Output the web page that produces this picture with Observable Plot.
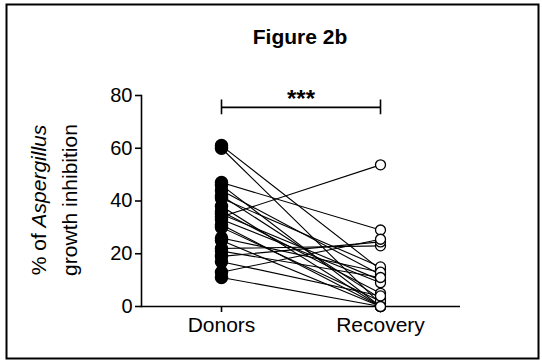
<!DOCTYPE html>
<html>
<head>
<meta charset="utf-8">
<script src="https://cdn.jsdelivr.net/npm/d3@7"></script>
<script src="https://cdn.jsdelivr.net/npm/@observablehq/plot@0.6"></script>
<style>
  html, body { margin: 0; padding: 0; background: #fff; }
  svg { font-family: "Liberation Sans", Arial, sans-serif; }
</style>
</head>
<body>
<div id="chart"></div>
<script>
const groups = ["Donors", "Recovery"];
const donorValues    = [61, 60, 47, 46, 44, 42, 41, 38, 36, 35, 34, 33, 31, 30, 26, 25, 22, 21, 19, 17, 13, 11];
const recoveryValues = [14, 1, 29, 0, 12, 3, 15, 0, 5, 10, 53.7, 9, 0, 2, 13, 0, 23, 11, 24.5, 4, 25.5, 0];
const yTicks = [0, 20, 40, 60, 80];
const titleText = "Figure 2b";
const sigText = "***";
const sigLevel = 75.5;

const pairs = [];
donorValues.forEach((d, i) => {
  pairs.push({id: i, group: groups[0], value: d});
  pairs.push({id: i, group: groups[1], value: recoveryValues[i]});
});
const donors = pairs.filter(p => p.group === groups[0]);
const recov = pairs.filter(p => p.group === groups[1]);

const chart = Plot.plot({
  width: 542,
  height: 363,
  marginLeft: 141,
  marginRight: 82,
  marginTop: 95,
  marginBottom: 57,
  style: {fontFamily: "Liberation Sans, Arial, sans-serif", background: "#fff", color: "#000"},
  x: {type: "point", domain: groups, padding: 0.5},
  y: {domain: [0, 80]},
  marks: [
    Plot.frame({anchor: "left", strokeWidth: 1.6}),
    Plot.ruleY([0], {strokeWidth: 1.6}),
    Plot.axisY({ticks: yTicks, tickSize: 6, tickPadding: 3, fontSize: 20, label: null, strokeWidth: 1.6}),
    Plot.axisX({tickSize: 6, tickPadding: 5, fontSize: 21, label: null, strokeWidth: 1.6}),
    Plot.line(pairs, {x: "group", y: "value", z: "id", stroke: "#000", strokeWidth: 1.1}),
    Plot.dot(donors, {x: "group", y: "value", r: 6, fill: "#000", stroke: "#000"}),
    Plot.dot(recov, {x: "group", y: "value", r: 5, fill: "#fff", stroke: "#000", strokeWidth: 1.3}),
    Plot.ruleY([sigLevel], {x1: () => groups[0], x2: () => groups[1], strokeWidth: 1.6}),
    Plot.ruleX(groups, {x: d => d, y1: sigLevel - 2.8, y2: sigLevel + 2.8, strokeWidth: 1.6}),
    Plot.text([sigText], {x: () => groups[0], y: () => sigLevel, text: d => d, dx: 79.5, dy: 0, lineAnchor: "bottom", fontSize: 24, fontWeight: "bold", fill: "#000"})
  ]
});

const svg = d3.select(chart);
svg.append("rect")
  .attr("x", 6.5).attr("y", 4.5).attr("width", 532).attr("height", 354)
  .attr("fill", "none").attr("stroke", "#000").attr("stroke-width", 2);
svg.append("text")
  .attr("x", 300).attr("y", 44)
  .attr("text-anchor", "middle")
  .attr("font-size", 21).attr("font-weight", "bold")
  .attr("fill", "#000")
  .text(titleText);
const lab = svg.append("text")
  .attr("transform", "translate(46,200) rotate(-90)")
  .attr("text-anchor", "middle")
  .attr("font-size", 21)
  .attr("fill", "#000");
const l1 = lab.append("tspan").attr("x", 0).attr("y", 0);
l1.append("tspan").text("% of ");
l1.append("tspan").attr("font-style", "italic").text("Aspergillus");
lab.append("tspan").attr("x", 0).attr("y", 31).text("growth inhibition");

document.getElementById("chart").appendChild(chart);
</script>
</body>
</html>
